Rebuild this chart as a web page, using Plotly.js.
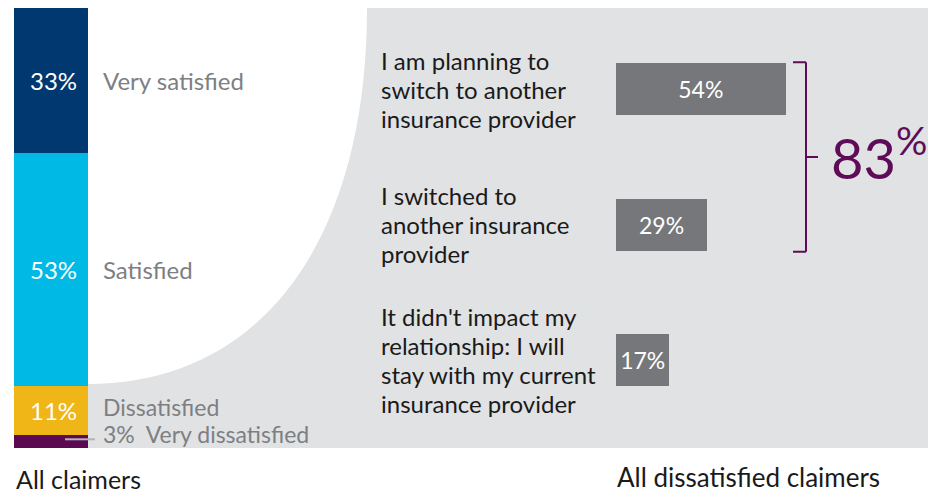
<!DOCTYPE html>
<html><head><meta charset="utf-8">
<script src="https://cdn.plot.ly/plotly-3.0.1.min.js"></script>
<style>html,body{margin:0;padding:0;background:#fff}#chart{width:935px;height:495px}</style>
</head><body><div id="chart"></div>
<script>
// ---------- data ----------
const satisfactionCategories = ['Very dissatisfied', 'Dissatisfied', 'Satisfied', 'Very satisfied'];
const satisfactionValues = [3, 11, 53, 33];
const satisfactionGroup = 'All claimers';

const impactCategories = [
  'I am planning to<br>switch to another<br>insurance provider',
  'I switched to<br>another insurance<br>provider',
  "It didn't impact my<br>relationship: I will<br>stay with my current<br>insurance provider"
];
const impactValues = [54, 29, 17];
const impactGroup = 'All dissatisfied claimers';
const switchedIdx = [0, 1];   // categories summed by the bracket

// ---------- styles ----------
const W = 935, H = 495;
const FONT = 'Lato, "Open Sans", sans-serif';
const segColors = ['#5b0a52', '#f0b516', '#00b9e5', '#00386f'];
const barGrey = '#76777b';
const bgGrey = '#e1e2e4';
const purple = '#5f0c58';
const labelGrey = '#7e7f83';
const ink = '#1a1a1a';

const px = x => x / W;
const py = y => 1 - y / H;
const P = (x, y) => px(x) + ',' + py(y);

// ---------- traces ----------
const traces = [];
satisfactionCategories.forEach((c, i) => {
  traces.push({
    type: 'bar', name: c,
    x: [satisfactionGroup], y: [satisfactionValues[i]],
    width: [1],
    marker: {color: segColors[i], line: {width: 0}},
    xaxis: 'x', yaxis: 'y', hoverinfo: 'skip', showlegend: false
  });
});
traces.push({
  type: 'bar', orientation: 'h',
  x: impactValues, y: impactCategories,
  width: impactValues.map(() => 0.384),
  marker: {color: barGrey, line: {width: 0}},
  text: impactValues.map(v => v + '%'),
  textposition: 'inside', insidetextanchor: 'middle',
  textfont: {family: FONT, size: 23, color: '#ffffff'},
  xaxis: 'x2', yaxis: 'y2', hoverinfo: 'skip', showlegend: false
});

// ---------- annotations ----------
const ann = [];
let cum = 0;
const labelShift = [7, 4, 0, 0];
const labelSize = [23, 23, 24, 24];
satisfactionValues.forEach((v, i) => {
  const mid = cum + v / 2;
  cum += v;
  if (i > 0) {
    ann.push({xref: 'paper', yref: 'y', x: px(79), y: mid, xanchor: 'right', yanchor: 'middle',
      text: v + '%', showarrow: false, font: {family: FONT, size: 24, color: '#ffffff'}});
  }
  const label = i === 0 ? v + '%\u00a0\u00a0' + satisfactionCategories[i] : satisfactionCategories[i];
  ann.push({xref: 'paper', yref: 'y', x: px(101), y: mid, xanchor: 'left', yanchor: 'middle',
    yshift: labelShift[i],
    text: label, showarrow: false, font: {family: FONT, size: labelSize[i], color: labelGrey}});
});

impactCategories.forEach((c, i) => {
  const lines = c.split('<br>');
  const n = lines.length;
  lines.forEach((ln, j) => {
    ann.push({xref: 'paper', yref: 'y2', x: px(379), y: i, xanchor: 'left', yanchor: 'middle',
      yshift: ((n - 1) / 2 - j) * 29,
      text: ln, showarrow: false, font: {family: FONT, size: 24, color: ink}});
  });
});

const switchedTotal = switchedIdx.reduce((s, k) => s + impactValues[k], 0);
ann.push({xref: 'paper', yref: 'y2', x: px(829), y: 0.5, xanchor: 'left', yanchor: 'middle',
  yshift: 4,
  text: switchedTotal + '<sup>%</sup>', showarrow: false, font: {family: FONT, size: 56, color: purple}});

ann.push({xref: 'paper', yref: 'paper', x: px(14), y: py(479), xanchor: 'left', yanchor: 'middle',
  text: satisfactionGroup, showarrow: false, font: {family: FONT, size: 25, color: ink}});
ann.push({xref: 'paper', yref: 'paper', x: px(615), y: py(477), xanchor: 'left', yanchor: 'middle',
  text: impactGroup, showarrow: false, font: {family: FONT, size: 26, color: ink}});

// ---------- shapes ----------
const shapes = [
  {type: 'path', xref: 'paper', yref: 'paper', layer: 'below',
   path: 'M ' + P(88, 384) + ' C ' + P(261, 384) + ' ' + P(367, 241) + ' ' + P(367, 8) +
         ' L ' + P(928, 8) + ' L ' + P(928, 448) + ' L ' + P(88, 448) + ' Z',
   fillcolor: bgGrey, line: {width: 0}},
  {type: 'line', xref: 'paper', yref: 'paper', x0: px(65), x1: px(95), y0: py(439.3), y1: py(439.3),
   line: {color: '#b4b4b6', width: 2}, layer: 'above'},
  // bracket
  {type: 'line', xref: 'paper', yref: 'y2', x0: px(806), x1: px(806), y0: -0.2, y1: 1.2, line: {color: purple, width: 2}},
  {type: 'line', xref: 'paper', yref: 'y2', x0: px(793), x1: px(806), y0: -0.2, y1: -0.2, line: {color: purple, width: 2}},
  {type: 'line', xref: 'paper', yref: 'y2', x0: px(793), x1: px(806), y0: 1.2, y1: 1.2, line: {color: purple, width: 2}},
  {type: 'line', xref: 'paper', yref: 'y2', x0: px(806), x1: px(818), y0: 0.5, y1: 0.5, line: {color: purple, width: 2}}
];

const layout = {
  width: W, height: H,
  margin: {l: 0, r: 0, t: 0, b: 0, pad: 0},
  paper_bgcolor: '#ffffff', plot_bgcolor: 'rgba(0,0,0,0)',
  barmode: 'stack', showlegend: false,
  font: {family: FONT},
  xaxis: {domain: [px(14), px(88)], range: [-0.5, 0.5], type: 'category', visible: false, anchor: 'y', fixedrange: true},
  yaxis: {domain: [py(448), py(8)], range: [0, 100], visible: false, anchor: 'x', fixedrange: true},
  xaxis2: {domain: [px(616), px(930)], range: [0, 100], visible: false, anchor: 'y2', fixedrange: true},
  yaxis2: {domain: [py(427.75), py(21.75)], range: [2.5, -0.5], type: 'category', visible: false, anchor: 'x2', fixedrange: true},
  annotations: ann,
  shapes: shapes
};

Plotly.newPlot('chart', traces, layout, {displayModeBar: false, staticPlot: true});
</script>
</body></html>
